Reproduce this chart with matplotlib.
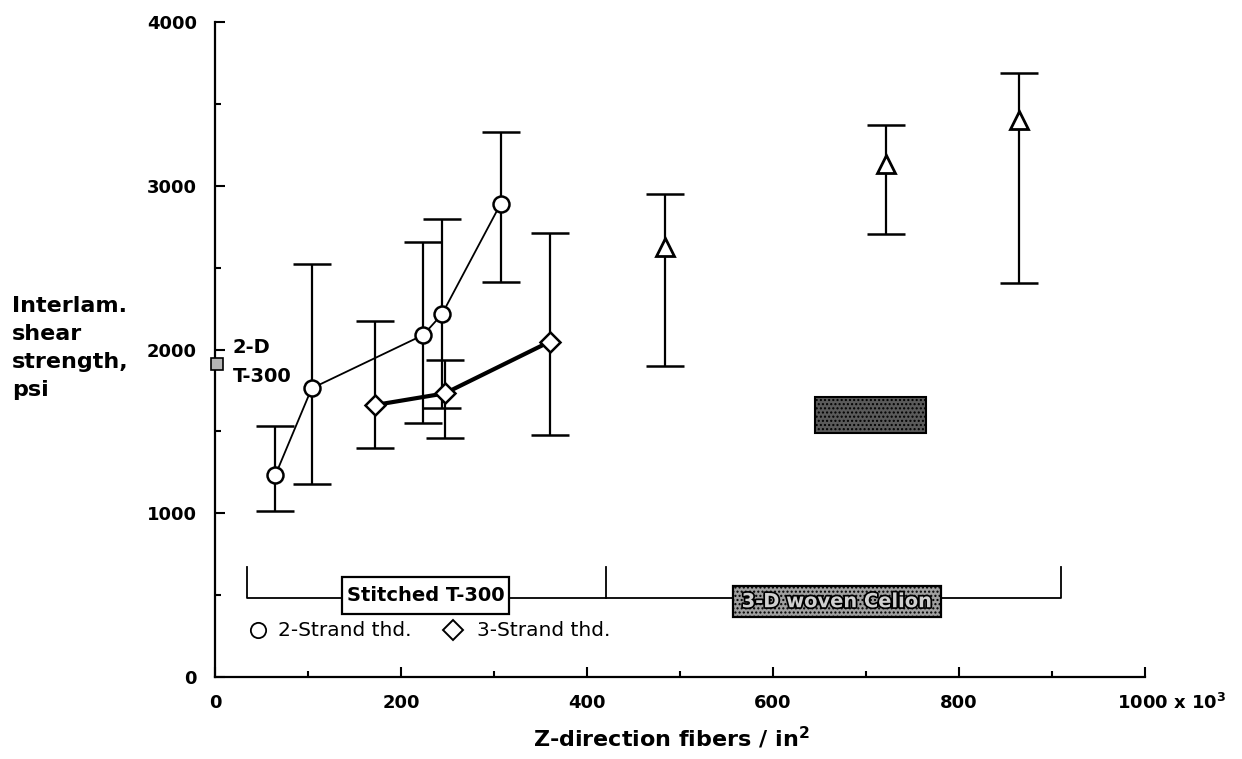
import numpy as np
import matplotlib.pyplot as plt
from matplotlib.patches import Rectangle
import matplotlib.patheffects as pe

plt.rcParams['font.family'] = ['DejaVu Sans']

# 2-strand stitched T-300 (circles)
x2 = [65, 104, 224, 244, 307]
y2 = [1234, 1763, 2089, 2215, 2888]
hi2 = [1533, 2525, 2658, 2797, 3326]
lo2 = [1014, 1177, 1549, 1641, 2414]

# 3-strand stitched T-300 (diamonds)
x3 = [172, 247, 360]
y3 = [1661, 1732, 2048]
hi3 = [2174, 1936, 2710]
lo3 = [1397, 1461, 1478]

# 3-D woven Celion (triangles)
xw = [484, 721, 865]
yw = [2628, 3133, 3402]
hiw = [2950, 3371, 3687]
low = [1897, 2705, 2404]

# 2-D T-300 reference point
x2d = [2]
y2d = [1910]

# shaded band for 3-D woven Celion
band_x = [645, 765]
band_y = [1493, 1708]

xticks = [0, 200, 400, 600, 800, 1000]
xticklabels = ['0', '200', '400', '600', '800', '']
yticks = [0, 1000, 2000, 3000, 4000]


def yerr(y, hi, lo):
    y, hi, lo = np.array(y), np.array(hi), np.array(lo)
    return [y - lo, hi - y]


fig = plt.figure(figsize=(12.42, 7.59), dpi=100)
ax = fig.add_axes([0.1731, 0.108, 0.7488, 0.863])

ebkw = dict(ecolor='black', elinewidth=1.6, capsize=14, capthick=1.8, zorder=2)
ax.errorbar(x2, y2, yerr=yerr(y2, hi2, lo2), fmt='none', **ebkw)
ax.errorbar(x3, y3, yerr=yerr(y3, hi3, lo3), fmt='none', **ebkw)
ax.errorbar(xw, yw, yerr=yerr(yw, hiw, low), fmt='none', **ebkw)

ax.plot(x2, y2, '-', color='black', lw=1.3, marker='o', ms=11.5,
        mfc='white', mec='black', mew=1.8, zorder=4)
ax.plot(x3, y3, '-', color='black', lw=3.0, marker='D', ms=10,
        mfc='white', mec='black', mew=1.8, zorder=4)
ax.plot(xw, yw, 'none', marker='^', ms=13, mfc='white', mec='black',
        mew=2.0, zorder=4)

ax.plot(x2d, y2d, 's', ms=8.5, mfc='#b5b5b5', mec='black', mew=1.2,
        clip_on=False, zorder=5)
ax.text(19, 2011, '2-D', fontsize=14, fontweight='bold', va='center', ha='left')
ax.text(19, 1834, 'T-300', fontsize=14, fontweight='bold', va='center', ha='left')

ax.add_patch(Rectangle((band_x[0], band_y[0]), band_x[1] - band_x[0],
                       band_y[1] - band_y[0], facecolor='#5a5a5a',
                       edgecolor='black', hatch='....', lw=1.5, zorder=3))

# bracket
ax.plot([34, 34, 910, 910], [670, 485, 485, 670], color='black', lw=1.3, zorder=2)
ax.plot([420, 420], [485, 670], color='black', lw=1.3, zorder=2)

ax.add_patch(Rectangle((137, 385), 179, 226, facecolor='white',
                       edgecolor='black', lw=1.6, zorder=3))
ax.text(226.5, 498, 'Stitched T-300', fontsize=14, fontweight='bold',
        ha='center', va='center', zorder=4)

ax.add_patch(Rectangle((557, 365), 224, 191, facecolor='#a0a0a0',
                       edgecolor='black', hatch='....', lw=1.6, zorder=3))
ax.text(669, 460, '3-D woven Celion', fontsize=14, fontweight='bold',
        ha='center', va='center', color='#d0d0d0', zorder=4,
        path_effects=[pe.withStroke(linewidth=2.5, foreground='black')])

# legend
ax.plot([46], [287], 'o', ms=11, mfc='white', mec='black', mew=1.3)
ax.text(68, 287, '2-Strand thd.', fontsize=14.5, va='center', ha='left')
ax.plot([256], [287], 'D', ms=10.5, mfc='white', mec='black', mew=1.4)
ax.text(282, 287, '3-Strand thd.', fontsize=14.5, va='center', ha='left')

ax.set_xlim(0, 1000)
ax.set_ylim(0, 4000)
ax.spines['top'].set_visible(False)
ax.spines['right'].set_visible(False)
ax.spines['left'].set_linewidth(1.6)
ax.spines['bottom'].set_linewidth(1.6)

ax.set_xticks(xticks)
ax.set_xticklabels(xticklabels)
ax.set_xticks(np.arange(100, 1000, 200), minor=True)
ax.set_yticks(yticks)
ax.set_yticks([500, 1500, 2500, 3500], minor=True)
ax.tick_params(which='both', direction='in', width=1.5)
ax.tick_params(which='major', length=7)
ax.tick_params(which='minor', length=4)
ax.tick_params(axis='x', which='major', pad=12, labelsize=13)
ax.tick_params(axis='y', which='major', pad=13, labelsize=13)
for lab in ax.get_xticklabels() + ax.get_yticklabels():
    lab.set_fontweight('bold')

ax.annotate('1000 x 10$^{\\mathbf{3}}$', xy=(1000, 0), xycoords='data',
            xytext=(-20, -23), textcoords='offset points', ha='left',
            va='baseline', fontsize=13, fontweight='bold', annotation_clip=False)

fig.text(533 / 1242, 1 - 738 / 759, 'Z-direction fibers / in$^{\\mathbf{2}}$',
         fontsize=16, fontweight='bold', ha='left', va='center')
fig.text(12 / 1242, 1 - 348 / 759, 'Interlam.\nshear\nstrength,\npsi',
         fontsize=16, fontweight='bold', ha='left', va='center', linespacing=1.5)

fig.savefig('out.png', dpi=100)
